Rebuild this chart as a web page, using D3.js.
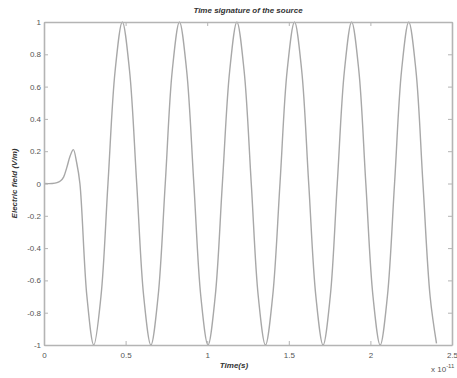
<html>
<head>
<meta charset="utf-8">
<script src="https://d3js.org/d3.v7.min.js"></script>
<style>
  body { margin: 0; background: #fff; }
  text { font-family: "Liberation Sans", Arial, sans-serif; }
</style>
</head>
<body>
<script>
// time in units of 1e-11 s, field in V/m
var times = [0, 0.05, 0.08, 0.10, 0.12, 0.14, 0.16, 0.18, 0.20, 0.22,
  0.263, 0.305, 0.349, 0.392, 0.436, 0.48, 0.524, 0.568, 0.611, 0.655,
  0.699, 0.743, 0.786, 0.83, 0.874, 0.918, 0.961, 1.005, 1.049, 1.093,
  1.138, 1.182, 1.226, 1.27, 1.313, 1.357, 1.401, 1.446, 1.49, 1.535,
  1.579, 1.622, 1.666, 1.71, 1.754, 1.797, 1.841, 1.885, 1.929, 1.972,
  2.016, 2.06, 2.104, 2.148, 2.191, 2.235, 2.279, 2.322, 2.366, 2.405];
var field = [0, 0, 0.005, 0.015, 0.04, 0.10, 0.17, 0.21, 0.13, 0.0,
  -0.70, -1, -0.70, 0, 0.70, 1, 0.70, 0, -0.70, -1,
  -0.70, 0, 0.70, 1, 0.70, 0, -0.70, -1, -0.70, 0,
  0.70, 1, 0.70, 0, -0.70, -1, -0.70, 0, 0.70, 1,
  0.70, 0, -0.70, -1, -0.70, 0, 0.70, 1, 0.70, 0,
  -0.70, -1, -0.70, 0, 0.70, 1, 0.70, 0, -0.70, -0.99];
var xTicks = [0, 0.5, 1, 1.5, 2, 2.5];
var yTicks = [-1, -0.8, -0.6, -0.4, -0.2, 0, 0.2, 0.4, 0.6, 0.8, 1];

var width = 457, height = 378;
var margin = {top: 22, right: 5, bottom: 33, left: 44};

var svg = d3.select("body").append("svg")
    .attr("width", width)
    .attr("height", height);

var x = d3.scaleLinear().domain([0, 2.5]).range([margin.left, width - margin.right]);
var y = d3.scaleLinear().domain([-1, 1]).range([height - margin.bottom, margin.top]);

var data = times.map((t, i) => [t, field[i]]);

var axisColor = "#b4b4b4", textColor = "#555";
var fmt = d => String(d);

// curve
svg.append("path")
    .datum(data)
    .attr("fill", "none")
    .attr("stroke", "#a8a8a8")
    .attr("stroke-width", 1.4)
    .attr("d", d3.line().x(d => x(d[0])).y(d => y(d[1])).curve(d3.curveCatmullRom.alpha(0.5)));

// axes, matlab-style box with inward ticks
function styleAxis(g) {
    g.select(".domain").attr("stroke", axisColor).attr("stroke-width", 1.6);
    g.selectAll(".tick line").attr("stroke", axisColor).attr("stroke-width", 1);
    g.selectAll(".tick text").attr("fill", textColor).attr("font-size", 8);
}
svg.append("g")
    .attr("transform", `translate(0,${y(-1)})`)
    .call(d3.axisBottom(x).tickValues(xTicks).tickFormat(fmt).tickSizeInner(-4).tickSizeOuter(0).tickPadding(7))
    .call(styleAxis);
svg.append("g")
    .attr("transform", `translate(0,${y(1)})`)
    .call(d3.axisTop(x).tickValues(xTicks).tickFormat("").tickSizeInner(-4).tickSizeOuter(0))
    .call(styleAxis);
svg.append("g")
    .attr("transform", `translate(${x(0)},0)`)
    .call(d3.axisLeft(y).tickValues(yTicks).tickFormat(fmt).tickSizeInner(-4).tickSizeOuter(0).tickPadding(3))
    .call(styleAxis);
svg.append("g")
    .attr("transform", `translate(${x(2.5)},0)`)
    .call(d3.axisRight(y).tickValues(yTicks).tickFormat("").tickSizeInner(-4).tickSizeOuter(0))
    .call(styleAxis);

// title and labels
svg.append("text")
    .attr("x", (x(0) + x(2.5)) / 2).attr("y", 13)
    .attr("text-anchor", "middle")
    .attr("font-size", 8).attr("font-weight", "bold").attr("font-style", "italic")
    .attr("fill", "#333")
    .text("Time signature of the source");

svg.append("text")
    .attr("x", 234).attr("y", 368)
    .attr("text-anchor", "middle")
    .attr("font-size", 8).attr("font-weight", "bold").attr("font-style", "italic")
    .attr("fill", "#333")
    .text("Time(s)");

svg.append("text")
    .attr("transform", `translate(17,${y(0)}) rotate(-90)`)
    .attr("text-anchor", "middle")
    .attr("font-size", 8).attr("font-weight", "bold").attr("font-style", "italic")
    .attr("fill", "#333")
    .text("Electric field (V/m)");

var exp = svg.append("text")
    .attr("x", 431).attr("y", 372)
    .attr("font-size", 8).attr("fill", textColor);
exp.append("tspan").text("x 10");
exp.append("tspan").attr("dy", -4).attr("font-size", 6).text("-11");
</script>
</body>
</html>
